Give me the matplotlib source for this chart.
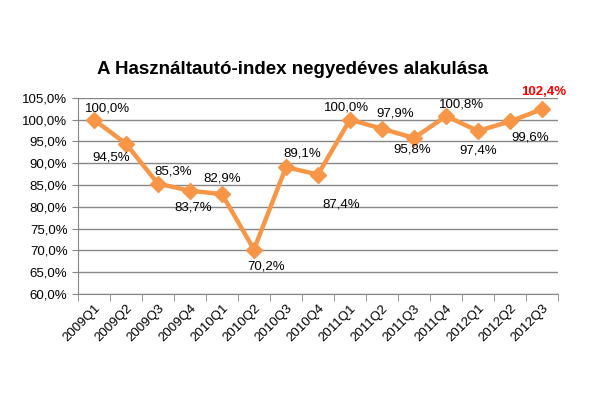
import matplotlib.pyplot as plt
import numpy as np

plt.rcParams['font.family'] = ['Liberation Sans', 'DejaVu Sans']

quarters = ["2009Q1", "2009Q2", "2009Q3", "2009Q4", "2010Q1", "2010Q2", "2010Q3", "2010Q4",
            "2011Q1", "2011Q2", "2011Q3", "2011Q4", "2012Q1", "2012Q2", "2012Q3"]
index_values = [100.0, 94.5, 85.3, 83.7, 82.9, 70.2, 89.1, 87.4,
                100.0, 97.9, 95.8, 100.8, 97.4, 99.6, 102.4]

# label offsets in pixels (dx, dy)
label_offsets = [(14, 11), (-15, -14), (15, 12), (3, -17), (0, 16), (12, -17), (16, 14), (23, -30),
                 (-4, 12), (13, 15), (-2, -12), (15, 12), (0, -20), (20, -16), (2, 17)]

orange = "#F79646"
grid_col = "#878787"

fig = plt.figure(figsize=(5.9, 3.93), dpi=100)
ax = fig.add_axes([0.132, 0.252, 0.814, 0.499])

x = np.arange(len(quarters))
ax.plot(x, index_values, color=orange, linewidth=3.2, marker="D", markersize=8,
        markeredgecolor=orange, zorder=3)

for i, (v, off) in enumerate(zip(index_values, label_offsets)):
    txt = f"{v:.1f}%".replace(".", ",")
    last = i == len(index_values) - 1
    ax.annotate(txt, (x[i], v), xytext=off, textcoords="offset pixels",
                ha="center", va="center", fontsize=9.5,
                color="#FF0000" if last else "black",
                fontweight="bold" if last else "normal")

ax.set_xlim(-0.5, len(quarters) - 0.5)
ax.set_ylim(60, 105)
ax.set_yticks(np.arange(60, 105.1, 5))
ax.set_yticklabels([f"{t:.1f}%".replace(".", ",") for t in np.arange(60, 105.1, 5)], fontsize=9.5)
ax.set_xticks(x)
ax.set_xticklabels(quarters, rotation=45, ha="right", rotation_mode="anchor", fontsize=9.5)
ax.set_xticks(np.arange(-0.5, len(quarters)), minor=True)
ax.tick_params(axis="x", which="major", length=0, pad=6)
ax.tick_params(axis="x", which="minor", length=5, color=grid_col, direction="out")
ax.tick_params(axis="y", length=4, color=grid_col, direction="out")

ax.grid(axis="y", color=grid_col, linewidth=1)
ax.set_axisbelow(True)
for s in ["top", "right"]:
    ax.spines[s].set_visible(False)
ax.spines["left"].set_color(grid_col)
ax.spines["bottom"].set_color(grid_col)

fig.text(0.495, 0.822, "A Használtautó-index negyedéves alakulása", ha="center", va="center",
         fontsize=13.5, fontweight="bold")

fig.savefig("out.png", dpi=100)
